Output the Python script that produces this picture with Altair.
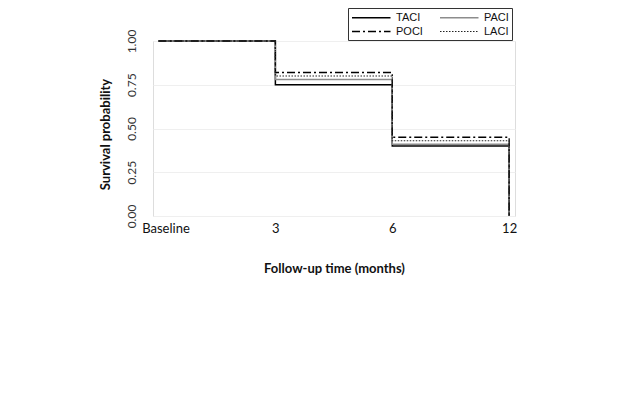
import json
import altair as alt
import pandas as pd

time_labels = ["Baseline", "3", "6", "12"]
time_index = [0, 1, 2, 3]
series_names = ["TACI", "PACI", "POCI", "LACI"]
taci = [1.00, 0.75, 0.40, 0.00]
paci = [1.00, 0.78, 0.41, 0.00]
poci = [1.00, 0.82, 0.45, 0.00]
laci = [1.00, 0.80, 0.43, 0.00]

rows = []
for name, vals in zip(series_names, [taci, paci, poci, laci]):
    for t, v in zip(time_index, vals):
        rows.append({"series": name, "t": t, "surv": v})
df = pd.DataFrame(rows)

label_expr = json.dumps(time_labels) + "[datum.value]"

leg = alt.Legend(title=None, orient="none", legendX=195, legendY=-33, columns=2,
                 direction="horizontal", symbolType="M-1,0H6", symbolSize=121,
                 labelFont="Liberation Sans", labelFontSize=11, labelColor="#111",
                 labelOffset=32, columnPadding=14, rowPadding=2, padding=3,
                 strokeColor="#333", fillColor="white")

chart = alt.Chart(df).mark_line(interpolate="step-after").encode(
    x=alt.X("t:Q",
            scale=alt.Scale(domain=[-0.047, 3.05], nice=False, zero=False),
            axis=alt.Axis(values=time_index, labelExpr=label_expr, grid=False,
                          domain=False, ticks=False, labelFont="Lato", labelFontSize=13,
                          labelColor="#111", labelPadding=6,
                          labelOffset={"condition": {"test": "datum.value == 0", "value": 7}, "value": 0},
                          title="Follow-up time (months)", titleFont="Lato",
                          titleFontSize=13, titleFontWeight="bold", titleColor="#111",
                          titleX=181, titleY=52, titleBaseline="middle")),
    y=alt.Y("surv:Q",
            scale=alt.Scale(domain=[0, 1], nice=False),
            axis=alt.Axis(values=[0, 0.25, 0.5, 0.75, 1.0], format=".2f", grid=True,
                          gridColor="#efefef", gridWidth=1, domain=False, ticks=False,
                          labelAngle=270, labelAlign="center", labelBaseline="bottom",
                          labelPadding=15, labelFont="Lato", labelFontSize=12,
                          labelColor="#333",
                          title="Survival probability", titleFont="Lato", titleFontSize=13,
                          titleFontWeight="bold", titleColor="#111", titleAngle=270,
                          titleAlign="center", titleBaseline="middle",
                          titleX=-48, titleY=93)),
    color=alt.Color("series:N", legend=leg,
                    scale=alt.Scale(domain=series_names,
                                    range=["#000000", "#8c8c8c", "#000000", "#222222"])),
    strokeDash=alt.StrokeDash("series:N", legend=leg,
                              scale=alt.Scale(domain=series_names,
                                              range=[[1, 0], [1, 0], [8, 3, 2, 3], [1.5, 1.5]])),
    strokeWidth=alt.StrokeWidth("series:N", legend=leg,
                                scale=alt.Scale(domain=series_names,
                                                range=[1.5, 1.2, 1.5, 1.1])),
).properties(
    width=362,
    height=175,
    autosize=alt.AutoSizeParams(type="none"),
    padding={"left": 145, "top": 33, "right": 117, "bottom": 187},
).configure_view(
    stroke=None
).configure(background="white")

chart.save("out.html", embed_options={"renderer": "svg", "actions": False})
